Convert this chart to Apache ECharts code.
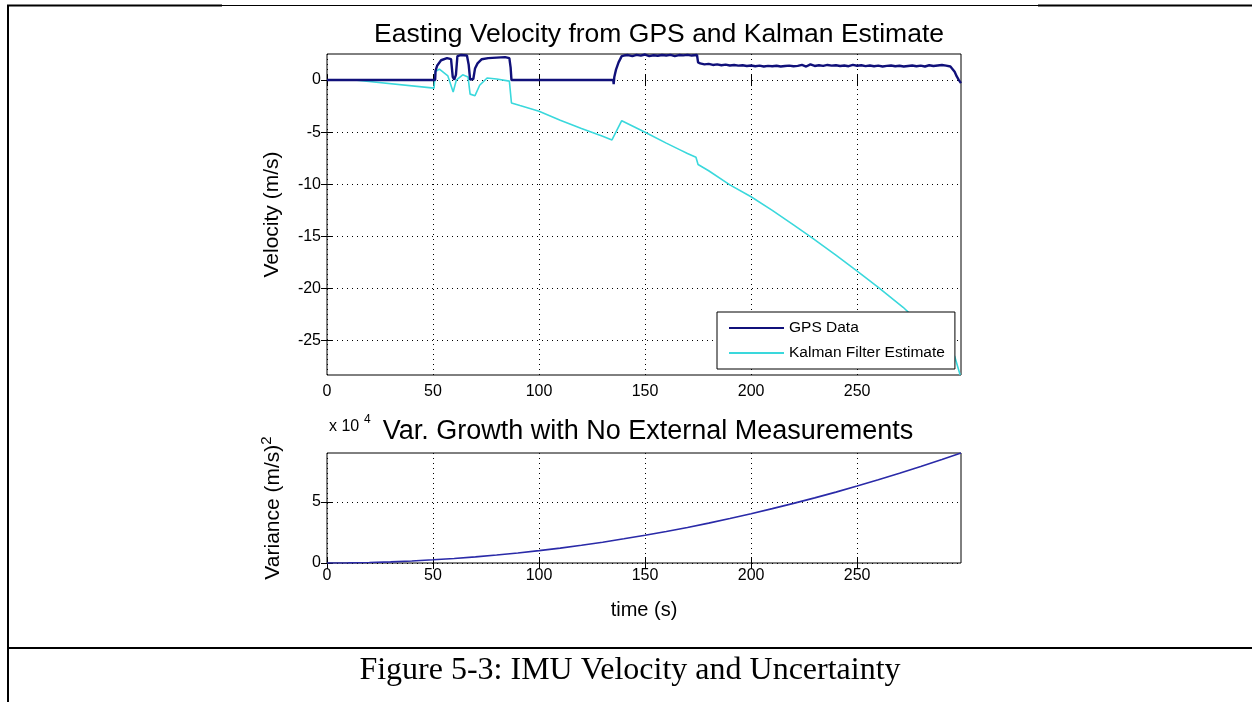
<!DOCTYPE html>
<html><head><meta charset="utf-8">
<script src="https://cdn.jsdelivr.net/npm/echarts@6/dist/echarts.min.js"></script>
<style>html,body{margin:0;padding:0;background:#fff}#c{width:1252px;height:702px}</style>
</head><body><div id="c"></div><script>
// ---- data ----
const xTicks = [0, 50, 100, 150, 200, 250];
const velTicks = [-25, -20, -15, -10, -5, 0];
const varTicks = [0, 5];          // in units of 10^4 (m/s)^2

const gpsTime = [0, 51, 51.2, 52, 53.8, 56.6, 58.5, 59.3, 60, 60.8, 61.5, 63, 66, 66.8, 67.5, 69, 69.8, 71, 73, 76, 80, 84, 86, 86.6, 87,
  135, 135.2, 135.5, 136.3, 137.5, 139, 140, 142, 144, 146, 148, 150, 152, 154, 156, 158, 160, 162, 164, 166, 168, 170, 172, 174.5,
  175, 176, 178, 180, 182, 184, 186, 188, 190, 192, 194, 196, 198, 200, 202, 204, 206, 208, 210, 212, 214, 216, 218, 220, 222, 224,
  226, 228, 230, 232, 234, 236, 238, 240, 242, 244, 246, 248, 250, 252, 254, 256, 258, 260, 262, 264, 266, 268, 270, 272, 274, 276,
  278, 280, 282, 284, 286, 288, 290, 292, 294, 296, 297, 298, 299];
const gpsVel = [0, 0, 0.9, 1.4, 1.9, 2.1, 2.0, 0.3, 0.05, 0.5, 2.3, 2.4, 2.35, 1.5, 0.05, 0.1, 1.1, 1.6, 2.0, 2.1, 2.15, 2.2, 2.1, 1.2, 0,
  0, -0.4, 0.3, 1.0, 1.7, 2.3, 2.35, 2.4, 2.3, 2.42, 2.35, 2.45, 2.3, 2.38, 2.33, 2.4, 2.36, 2.42, 2.3, 2.4, 2.37, 2.42, 2.35, 2.4,
  1.7, 1.6, 1.5, 1.55, 1.45, 1.5, 1.42, 1.48, 1.4, 1.45, 1.38, 1.42, 1.35, 1.4, 1.33, 1.38, 1.3, 1.36, 1.32, 1.37, 1.3, 1.35, 1.38, 1.32, 1.36, 1.45,
  1.3, 1.5, 1.35, 1.42, 1.36, 1.45, 1.38, 1.42, 1.35, 1.4, 1.33, 1.45, 1.37, 1.42, 1.34, 1.4, 1.33, 1.38, 1.3, 1.36, 1.4, 1.32, 1.37, 1.3, 1.35, 1.4,
  1.33, 1.38, 1.3, 1.42, 1.35, 1.4, 1.45, 1.38, 1.3, 0.8, 0.35, 0.0, -0.3];

const kalTime = [13, 50.5, 51, 53, 57, 59.5, 61, 64, 66.5, 67.5, 69.8, 72, 75.5, 80, 86, 87, 91, 100, 110, 120, 130, 134.4,
  139, 145, 150, 160, 166.5, 170, 174, 174.5, 175, 180, 190, 200, 210, 220, 227.8, 240, 250.5, 260, 271.7, 280, 290, 296, 298.6];
const kalVel = [0, -0.77, 0.8, 1.05, 0.4, -1.15, 0.0, 0.5, 0.3, -1.35, -1.5, -0.5, 0.2, 0.1, -0.1, -2.2, -2.45, -3.0, -3.85, -4.65, -5.4, -5.75,
  -3.9, -4.5, -5.0, -6.05, -6.7, -7.05, -7.4, -7.3, -8.1, -8.7, -10.06, -11.2, -12.5, -13.9, -15.0, -16.8, -18.4, -19.9, -21.8, -23.4, -25.3, -26.5, -28.3];

const varTime = [0, 10, 20, 30, 40, 50, 60, 70, 80, 90, 100, 110, 120, 130, 140, 150, 160, 170, 180, 190, 200, 210, 220, 230, 240, 250, 260, 270, 280, 290, 299];
const varValue = [0, 100, 400, 900, 1600, 2600, 3700, 5000, 6500, 8200, 10100, 12200, 14500, 17000, 19800, 22700, 25800, 29100, 32600, 36400,
  40300, 44500, 48800, 53300, 58000, 63000, 68100, 73400, 79000, 84700, 90000];

const pairs = (xs, ys) => xs.map((x, i) => [x, ys[i]]);

const FONT = "'Liberation Sans', Arial, sans-serif";
const TICKFONT = "'Liberation Sans Narrow', 'Liberation Sans', Arial, sans-serif";
const X0 = 327, W = 634;
const g1 = {left: X0, top: 54, width: W, height: 321};
const g2 = {left: X0, top: 453, width: W, height: 110};
const DOT = {color: '#000', type: [1, 4], width: 1};
const TICK = {color: '#000', width: 1};

const chart = echarts.init(document.getElementById('c'), null, {renderer: 'canvas'});

function xAx(grid, pos, labels, margin) {
  return {
    type: 'value', gridIndex: grid, position: pos, min: 0, max: 299,
    axisLine: {show: false},
    axisTick: {show: true, inside: true, length: 6, lineStyle: TICK, customValues: xTicks},
    axisLabel: {show: labels, color: '#000', fontFamily: TICKFONT, fontSize: 16, margin: margin || 8,
      customValues: xTicks},
    splitLine: {show: labels, lineStyle: DOT}
  };
}
function yAx(grid, pos, labels, min, max, ticks, scale) {
  const vals = ticks.map(t => t * scale);
  return {
    type: 'value', gridIndex: grid, position: pos, min: min, max: max,
    axisLine: {show: false},
    axisTick: {show: true, inside: true, length: 6, lineStyle: TICK, customValues: vals},
    axisLabel: {show: labels, color: '#000', fontFamily: TICKFONT, fontSize: 16, margin: 6,
      customValues: vals, formatter: v => String(Math.round(v / scale))},
    splitLine: {show: labels, lineStyle: DOT}
  };
}

const yVel = yAx(0, 'left', true, -28.3, 2.5, velTicks, 1);
Object.assign(yVel, {name: 'Velocity (m/s)', nameLocation: 'middle', nameGap: 44,
  nameTextStyle: {fontFamily: FONT, fontSize: 21, color: '#000'}});
const yVar = yAx(1, 'left', true, 0, 90000, varTicks, 10000);
Object.assign(yVar, {name: 'Variance (m/s){s|2}', nameLocation: 'middle', nameGap: 40,
  nameTextStyle: {fontFamily: FONT, fontSize: 21, color: '#000', lineHeight: 28,
    rich: {s: {fontFamily: FONT, fontSize: 15, color: '#000', verticalAlign: 'top', lineHeight: 28}}}});
const xTime = xAx(1, 'bottom', true, 5);
Object.assign(xTime, {name: 'time (s)', nameLocation: 'middle', nameGap: 37,
  nameTextStyle: {fontFamily: FONT, fontSize: 20, color: '#000'}});

const option = {
  backgroundColor: '#fff',
  animation: false,
  title: [
    {text: 'Easting Velocity from GPS and Kalman Estimate', left: 654, top: 16, textAlign: 'center',
      textStyle: {fontFamily: FONT, fontSize: 26.5, fontWeight: 'normal', color: '#000'}},
    {text: 'Var. Growth with No External Measurements', left: 643, top: 413, textAlign: 'center',
      textStyle: {fontFamily: FONT, fontSize: 27, fontWeight: 'normal', color: '#000'}}
  ],
  grid: [
    Object.assign({show: true, borderColor: '#000', borderWidth: 1, backgroundColor: 'transparent'}, g1),
    Object.assign({show: true, borderColor: '#000', borderWidth: 1, backgroundColor: 'transparent'}, g2)
  ],
  legend: {
    data: ['GPS Data', 'Kalman Filter Estimate'],
    orient: 'vertical', left: 717, top: 312,
    backgroundColor: '#fff', borderColor: '#000', borderWidth: 1,
    padding: [8, 10, 8, 11], itemGap: 9, itemWidth: 55, itemHeight: 14,
    itemStyle: {opacity: 0},
    textStyle: {fontFamily: FONT, fontSize: 15.5, color: '#000'},
    z: 10
  },
  xAxis: [xAx(0, 'bottom', true, 9), xAx(0, 'top', false), xTime, xAx(1, 'top', false)],
  yAxis: [
    yVel, yAx(0, 'right', false, -28.3, 2.5, velTicks, 1),
    yVar, yAx(1, 'right', false, 0, 90000, varTicks, 10000)
  ],
  series: [
    {name: 'GPS Data', type: 'line', xAxisIndex: 0, yAxisIndex: 0, data: pairs(gpsTime, gpsVel),
      symbol: 'circle', showSymbol: false, lineStyle: {color: '#10107a', width: 2.4}, itemStyle: {color: '#10107a'}, z: 3},
    {name: 'Kalman Filter Estimate', type: 'line', xAxisIndex: 0, yAxisIndex: 0, data: pairs(kalTime, kalVel),
      symbol: 'circle', showSymbol: false, lineStyle: {color: '#3ad8dc', width: 1.6}, itemStyle: {color: '#3ad8dc'}, z: 2},
    {name: 'Variance', type: 'line', xAxisIndex: 2, yAxisIndex: 2, data: pairs(varTime, varValue),
      symbol: 'none', lineStyle: {color: '#2a2aa8', width: 1.6}, itemStyle: {color: '#2a2aa8'}}
  ],
  graphic: [
    // table frame
    {type: 'line', shape: {x1: 8, y1: 5, x2: 8, y2: 702}, style: {stroke: '#000', lineWidth: 2}},
    {type: 'line', shape: {x1: 7, y1: 5.5, x2: 222, y2: 5.5}, style: {stroke: '#000', lineWidth: 2}},
    {type: 'line', shape: {x1: 222, y1: 5.5, x2: 1038, y2: 5.5}, style: {stroke: '#000', lineWidth: 1}},
    {type: 'line', shape: {x1: 1038, y1: 5.5, x2: 1252, y2: 5.5}, style: {stroke: '#000', lineWidth: 2}},
    {type: 'line', shape: {x1: 7, y1: 648, x2: 1252, y2: 648}, style: {stroke: '#000', lineWidth: 2}},
    // exponent label
    {type: 'text', left: 329, top: 419, style: {text: 'x 10', font: "16px 'Liberation Sans', Arial", fill: '#000'}},
    {type: 'text', left: 364, top: 414, style: {text: '4', font: "12px 'Liberation Sans', Arial", fill: '#000'}},
    // caption
    {type: 'text', x: 630, y: 655, style: {text: 'Figure 5-3: IMU Velocity and Uncertainty', align: 'center',
      font: "32px 'Liberation Serif', 'Times New Roman', serif", fill: '#000'}}
  ]
};
chart.setOption(option);
</script></body></html>
